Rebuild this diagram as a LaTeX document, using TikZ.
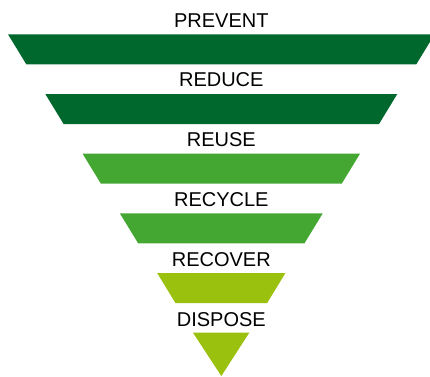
\documentclass[tikz,border=0pt]{standalone}
\usepackage{fontspec}
\setmainfont{Liberation Sans}
\definecolor{dkgreen}{RGB}{0,104,44}
\definecolor{mdgreen}{RGB}{67,167,50}
\definecolor{ltgreen}{RGB}{153,193,14}
\begin{document}
\begin{tikzpicture}[x=1pt,y=-1pt,
  lbl/.style={font=\fontsize{20}{20}\selectfont, inner sep=0pt, anchor=base, text=black}]
\useasboundingbox (0,0) rectangle (430,376);
\clip (0,0) rectangle (430,376);
\foreach \i/\c in {0/dkgreen,1/dkgreen,2/mdgreen,3/mdgreen,4/ltgreen}{
  \pgfmathsetmacro{\ty}{34.3+59.7*\i}
  \pgfmathsetmacro{\by}{\ty+30}
  \pgfmathsetmacro{\tl}{8+37.3*\i}
  \pgfmathsetmacro{\tr}{434.6-37.3*\i}
  \fill[\c] (\tl,\ty) -- (\tr,\ty) -- (\tr-18.3,\by) -- (\tl+18.3,\by) -- cycle;
}
\fill[ltgreen] (193,332.7) -- (249.3,332.7) -- (221.3,376) -- cycle;
\node[lbl] (prevent) at (221.3,27) {PREVENT};
\node[lbl] (reduce) at (221.3,86.8) {REDUCE};
\node[lbl] (reuse) at (221.3,146.6) {REUSE};
\node[lbl] (recycle) at (221.3,206.4) {RECYCLE};
\node[lbl] (recover) at (221.3,266.2) {RECOVER};
\node[lbl] (dispose) at (221.3,326) {DISPOSE};
\end{tikzpicture}
\end{document}
